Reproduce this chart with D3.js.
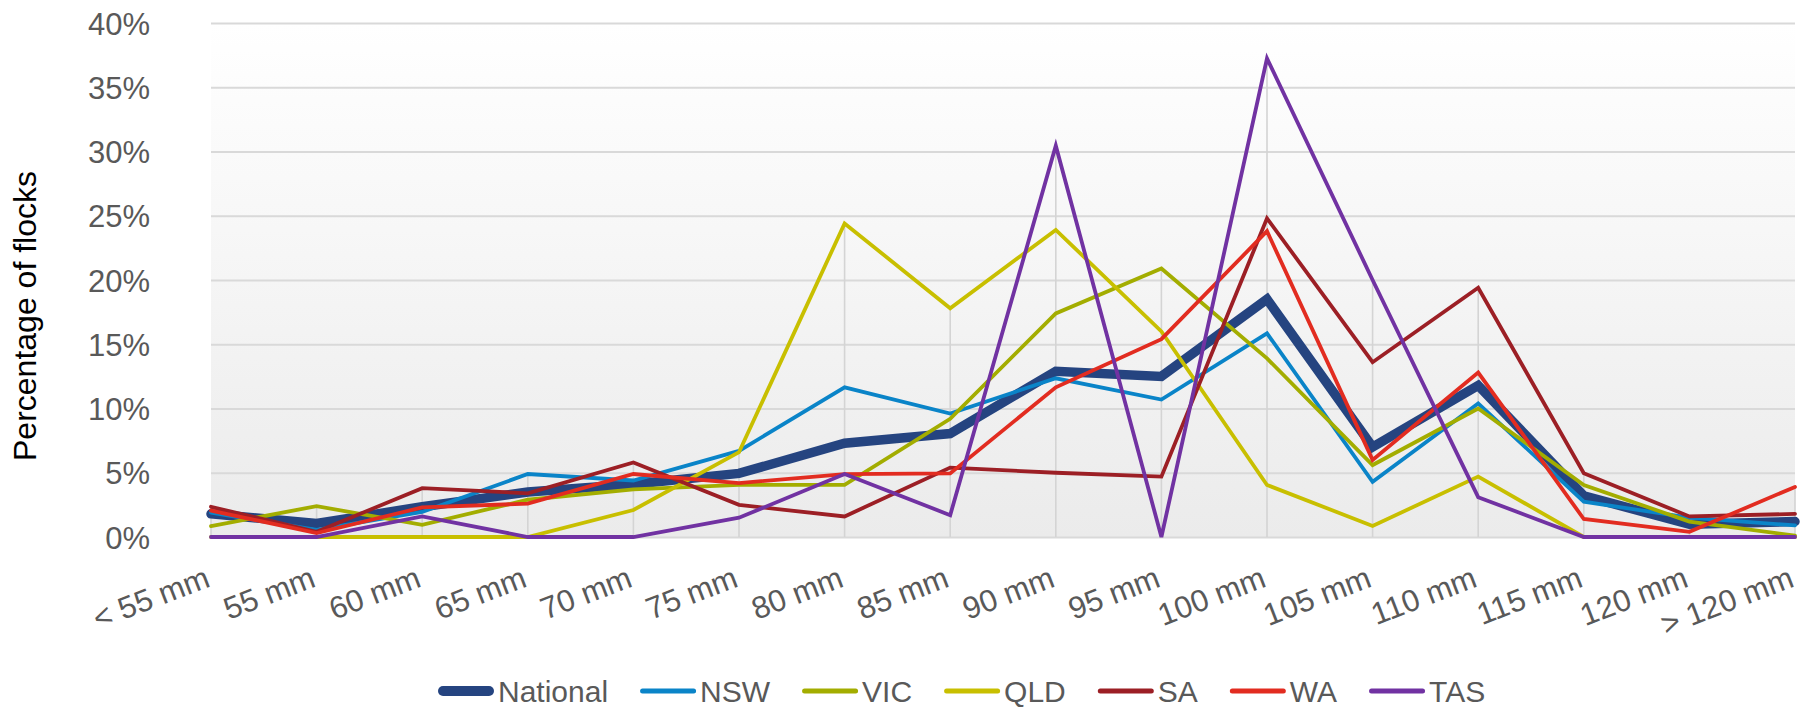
<!DOCTYPE html>
<html>
<head>
<meta charset="utf-8">
<script src="https://cdn.jsdelivr.net/npm/d3@7"></script>
<style>
  html, body { margin: 0; padding: 0; background: #fff; }
  svg { display: block; }
  text { font-family: "Liberation Sans", Arial, sans-serif; }
</style>
</head>
<body>
<svg id="chart" width="1800" height="708"></svg>
<script>
const categories = ["< 55 mm","55 mm","60 mm","65 mm","70 mm","75 mm","80 mm","85 mm","90 mm","95 mm","100 mm","105 mm","110 mm","115 mm","120 mm","> 120 mm"];
const yTicks = [0, 5, 10, 15, 20, 25, 30, 35, 40];
const seriesNames = ["National","NSW","VIC","QLD","SA","WA","TAS"];
const national = [1.8, 1.05, 2.35, 3.5, 4.1, 4.95, 7.3, 8.05, 12.9, 12.5, 18.5, 7.0, 11.8, 3.2, 1.0, 1.2];
const nsw      = [1.9, 0.55, 1.95, 4.9, 4.4, 6.7, 11.65, 9.6, 12.35, 10.7, 15.85, 4.3, 10.4, 2.75, 1.5, 0.9];
const vic      = [0.85, 2.4, 0.95, 2.9, 3.7, 4.05, 4.05, 9.2, 17.4, 20.9, 13.9, 5.6, 10.0, 4.05, 1.2, 0.1];
const qld      = [0, 0, 0, 0, 2.1, 6.6, 24.4, 17.8, 23.9, 16.0, 4.05, 0.86, 4.7, 0, 0, 0];
const sa       = [2.35, 0.4, 3.8, 3.4, 5.8, 2.5, 1.6, 5.4, 5.0, 4.7, 24.8, 13.6, 19.4, 4.96, 1.6, 1.8];
const wa       = [2.05, 0.3, 2.3, 2.6, 4.9, 4.2, 4.9, 4.95, 11.65, 15.4, 23.8, 6.0, 12.8, 1.4, 0.4, 3.9];
const tas      = [0, 0, 1.6, 0, 0, 1.5, 4.9, 1.7, 30.45, 0, 37.25, 20.0, 3.1, 0, 0, 0];
const seriesValues = [national, nsw, vic, qld, sa, wa, tas];
const colors = ["#254480", "#0a84c8", "#a3ad00", "#c8bf00", "#9c1f25", "#e22c20", "#7132a2"];
const widths = [9.5, 3.8, 3.8, 3.8, 3.8, 3.8, 3.8];

const svg = d3.select("#chart");
const plotL = 211, plotR = 1795, plotT = 23, plotB = 537;

const x = d3.scalePoint().domain(categories).range([plotL, plotR]);
const y = d3.scaleLinear().domain([0, 40]).range([plotB, plotT]);

// background gradient
const defs = svg.append("defs");
const grad = defs.append("linearGradient").attr("id", "bg").attr("x1", 0).attr("y1", 0).attr("x2", 0).attr("y2", 1);
grad.append("stop").attr("offset", "0%").attr("stop-color", "#ffffff");
grad.append("stop").attr("offset", "100%").attr("stop-color", "#ebebeb");
svg.append("rect").attr("x", plotL).attr("y", plotT).attr("width", plotR - plotL).attr("height", plotB - plotT).attr("fill", "url(#bg)");

// horizontal gridlines + y axis labels
const yAxis = d3.axisLeft(y).tickValues(yTicks).tickFormat(d => d + "%").tickSize(-(plotR - plotL)).tickPadding(61);
const gy = svg.append("g").attr("transform", `translate(${plotL},0)`).call(yAxis);
gy.select(".domain").remove();
gy.selectAll(".tick line").attr("stroke", "#d9d9d9").attr("stroke-width", 2);
gy.selectAll(".tick text").attr("fill", "#595959").attr("font-size", 31)
  .attr("font-family", "'Liberation Sans', Arial, sans-serif").attr("dy", "0.36em");

// drop lines
const maxes = categories.map((c, i) => d3.max(seriesValues, s => s[i]));
svg.append("g").selectAll("line").data(categories).join("line")
  .attr("x1", d => x(d)).attr("x2", d => x(d))
  .attr("y1", (d, i) => y(maxes[i])).attr("y2", y(0))
  .attr("stroke", "#d4d4d4").attr("stroke-width", 1.6);

// x axis labels
const xAxis = d3.axisBottom(x).tickSize(0).tickPadding(0);
const gx = svg.append("g").attr("transform", `translate(0,${plotB})`).call(xAxis);
gx.select(".domain").remove();
gx.selectAll(".tick text")
  .attr("fill", "#595959").attr("font-size", 31)
  .attr("font-family", "'Liberation Sans', Arial, sans-serif")
  .attr("text-anchor", "end").attr("y", 0).attr("dy", 0)
  .attr("transform", "translate(0,49) rotate(-21)");

// lines
const line = d3.line().x((d, i) => x(categories[i])).y(d => y(d)).curve(d3.curveLinear);
svg.append("g").selectAll("path").data(seriesValues).join("path")
  .attr("d", d => line(d))
  .attr("fill", "none")
  .attr("stroke", (d, i) => colors[i])
  .attr("stroke-width", (d, i) => widths[i])
  .attr("stroke-linejoin", "miter")
  .attr("stroke-linecap", "round");

// y title
svg.append("text")
  .attr("transform", "translate(36,316) rotate(-90)")
  .attr("text-anchor", "middle")
  .attr("font-size", 32).attr("fill", "#000")
  .text("Percentage of flocks");

// legend
const lg = svg.append("g");
let cx = 438;
const ly = 691;
seriesNames.forEach((name, i) => {
  const w = widths[i] > 5 ? 10 : 5;
  lg.append("line").attr("x1", cx + w / 2).attr("x2", cx + 56 - w / 2).attr("y1", ly).attr("y2", ly)
    .attr("stroke", colors[i]).attr("stroke-width", w).attr("stroke-linecap", "round");
  const t = lg.append("text").attr("x", cx + 60).attr("y", ly + 10.5)
    .attr("font-size", 30).attr("fill", "#595959").text(name);
  const len = t.node().getComputedTextLength();
  cx = cx + 60 + len + 32;
});
</script>
</body>
</html>
